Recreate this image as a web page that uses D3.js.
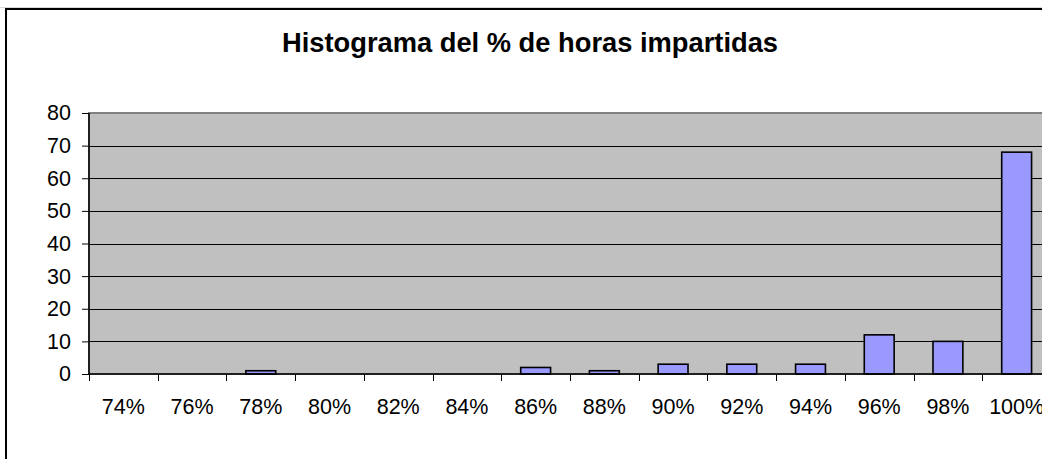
<!DOCTYPE html>
<html lang="es">
<head>
	<meta charset="utf-8">
	<title>Histograma</title>
	<script src="https://cdn.jsdelivr.net/npm/d3@7"></script>
	<style>
		body { margin: 0; background: #fff; }
		svg { display: block; overflow: hidden; }
		text { font-family: "Liberation Sans", Arial, sans-serif; fill: #000; }
		.bar { fill: #9999ff; stroke: #000; stroke-width: 1.6; }
		.grid line { stroke: #000; stroke-width: 1; shape-rendering: crispEdges; }
	</style>
</head>
<body>

	<div id="chart"></div>

	<script>
		// data
		var categories = ["74%", "76%", "78%", "80%", "82%", "84%", "86%", "88%", "90%", "92%", "94%", "96%", "98%", "100%"];
		var counts = [0, 0, 1, 0, 0, 0, 2, 1, 3, 3, 3, 12, 10, 68];
		var yTicks = [0, 10, 20, 30, 40, 50, 60, 70, 80];

		var data = categories.map(function(c, i) { return {cat: c, value: counts[i]}; });

		// the chart box runs past the right and bottom edge of the window
		var W = 1042, H = 459;
		var plot = {left: 89, top: 113, right: 1051, bottom: 374};

		var svg = d3.select("#chart")
				.append("svg")
				.attr("width", W)
				.attr("height", H);

		// outer border
		svg.append("line")
				.attr("x1", 0).attr("x2", W)
				.attr("y1", 7.5).attr("y2", 7.5)
				.attr("stroke", "#d8d8d8").attr("stroke-width", 1);
		svg.append("rect")
				.attr("x", 6).attr("y", 9)
				.attr("width", 1200).attr("height", 600)
				.attr("fill", "#fff")
				.attr("stroke", "#000")
				.attr("stroke-width", 2);

		// title
		svg.append("text")
				.attr("x", 530)
				.attr("y", 52)
				.attr("text-anchor", "middle")
				.style("font-size", "27.3px")
				.style("font-weight", "bold")
				.text("Histograma del % de horas impartidas");

		// scales
		var x = d3.scaleBand()
				.domain(categories)
				.range([plot.left, plot.right])
				.paddingInner(1.3 / 2.3)
				.paddingOuter(1.3 / 2.3 / 2);
		var xBand = d3.scaleBand()
				.domain(categories)
				.range([plot.left, plot.right]);
		var y = d3.scaleLinear()
				.domain([0, 80])
				.range([plot.bottom, plot.top]);

		// plot area
		svg.append("rect")
				.attr("x", plot.left)
				.attr("y", plot.top)
				.attr("width", plot.right - plot.left)
				.attr("height", plot.bottom - plot.top)
				.attr("fill", "#c0c0c0")
				.attr("stroke", "#808080")
				.attr("stroke-width", 2);

		// gridlines
		svg.append("g")
				.attr("class", "grid")
			.selectAll("line")
				.data(yTicks.filter(function(t) { return t > 0 && t < 80; }))
			.enter().append("line")
				.attr("x1", plot.left)
				.attr("x2", plot.right)
				.attr("y1", function(d) { return Math.round(y(d)) + 0.5; })
				.attr("y2", function(d) { return Math.round(y(d)) + 0.5; });

		// bars
		svg.selectAll(".bar")
				.data(data.filter(function(d) { return d.value > 0; }))
			.enter().append("rect")
				.attr("class", "bar")
				.attr("x", function(d) { return x(d.cat); })
				.attr("width", x.bandwidth())
				.attr("y", function(d) { return y(d.value); })
				.attr("height", function(d) { return y(0) - y(d.value); });

		// y axis
		var yAxis = svg.append("g")
				.attr("transform", "translate(" + plot.left + ",0)")
				.call(d3.axisLeft(y).tickValues(yTicks).tickSize(7).tickPadding(11));

		// x axis, ticks sit on the category edges
		var xAxis = svg.append("g")
				.attr("transform", "translate(0," + plot.bottom + ")")
				.call(d3.axisBottom(xBand).tickSize(0).tickPadding(25));

		svg.append("g")
			.selectAll("line")
				.data(categories)
			.enter().append("line")
				.attr("x1", function(d) { return Math.round(xBand(d)) + 0.5; })
				.attr("x2", function(d) { return Math.round(xBand(d)) + 0.5; })
				.attr("y1", plot.bottom)
				.attr("y2", plot.bottom + 7)
				.attr("stroke", "#000");

		[yAxis, xAxis].forEach(function(g) {
			g.selectAll("text")
					.style("font-size", "21.5px")
					.style("font-family", "'Liberation Sans', Arial, sans-serif")
					.attr("fill", "#000");
			g.selectAll("line").attr("stroke", "#000");
			g.select(".domain").attr("stroke", "#000").attr("stroke-width", 1.5);
		});
		xAxis.select(".domain").attr("d", "M" + plot.left + ",0H" + plot.right);
		yAxis.select(".domain").attr("d", "M0," + plot.bottom + "V" + plot.top);
	</script>

</body>
</html>
